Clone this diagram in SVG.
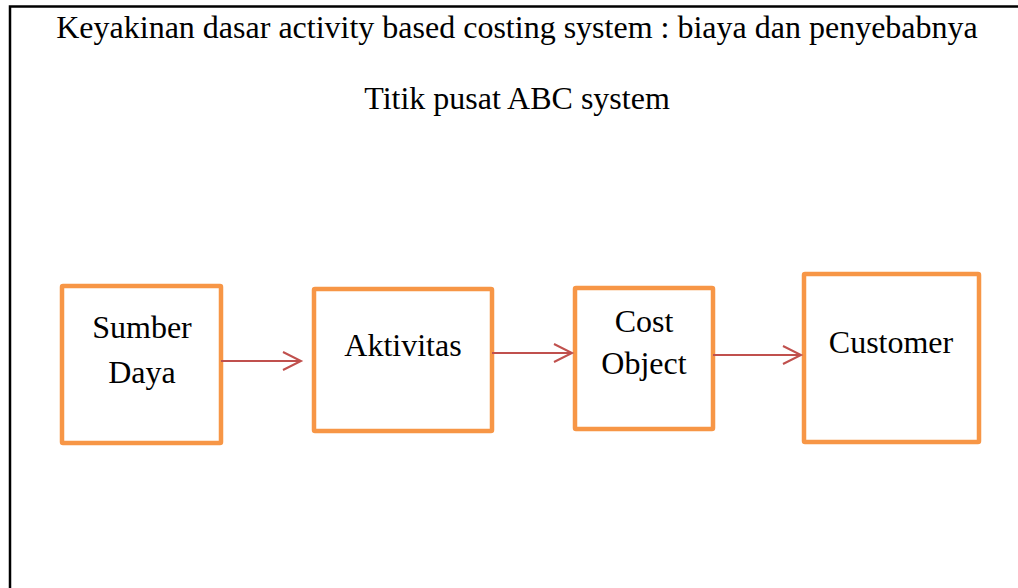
<svg xmlns="http://www.w3.org/2000/svg" width="1018" height="588" viewBox="0 0 1018 588">
<defs>
<style>
.t{font-family:"Liberation Serif","Times New Roman",serif;font-size:32px;fill:#000;text-anchor:middle}
.box{fill:#fff;stroke:#F79646;stroke-width:4.5}
.conn{stroke:#C0504D;stroke-width:2;fill:none}
</style>
<marker id="arr" markerWidth="22" markerHeight="22" refX="19" refY="10" orient="auto" markerUnits="userSpaceOnUse">
<path d="M1,1 L19,10 L1,19" fill="none" stroke="#C0504D" stroke-width="2"/>
</marker>
</defs>
<rect width="1018" height="588" fill="#fff"/>
<path d="M10,588 V6.5 H1018" fill="none" stroke="#000" stroke-width="2.5"/>
<text class="t" x="517" y="38">Keyakinan dasar activity based costing system : biaya dan penyebabnya</text>
<text class="t" x="517" y="109">Titik pusat ABC system</text>
<g id="sumber-daya"><rect class="box" x="62" y="286" width="159" height="157" rx="1"/><text class="t" x="142" y="338">Sumber</text><text class="t" x="142" y="383">Daya</text></g>
<g id="aktivitas"><rect class="box" x="314" y="289" width="178" height="142" rx="1"/><text class="t" x="403" y="356">Aktivitas</text></g>
<g id="cost-object"><rect class="box" x="575" y="288" width="138" height="141" rx="1"/><text class="t" x="644" y="332">Cost</text><text class="t" x="644" y="374">Object</text></g>
<g id="customer"><rect class="box" x="804" y="274" width="175" height="168" rx="1"/><text class="t" x="891" y="353">Customer</text></g>
<g id="connectors">
<line class="conn" x1="221" y1="361" x2="301" y2="361" marker-end="url(#arr)"/>
<line class="conn" x1="492" y1="353" x2="572" y2="353" marker-end="url(#arr)"/>
<line class="conn" x1="713" y1="355" x2="801" y2="355" marker-end="url(#arr)"/>
</g>
</svg>
